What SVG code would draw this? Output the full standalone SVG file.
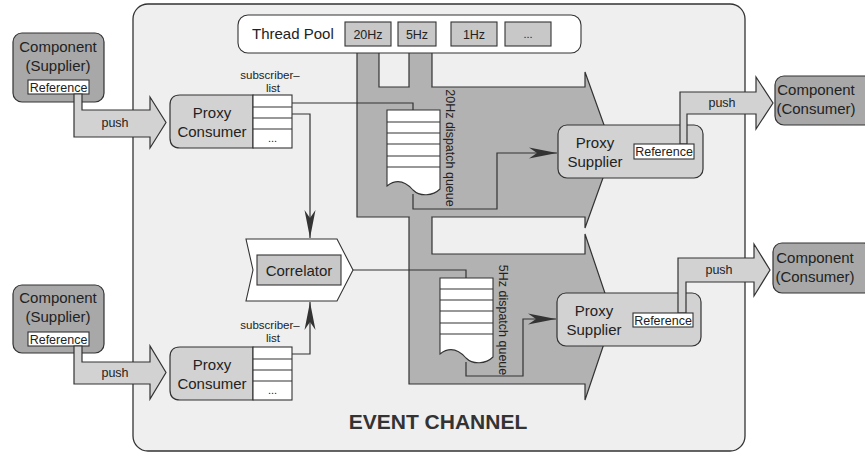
<svg xmlns="http://www.w3.org/2000/svg" width="865" height="453" viewBox="0 0 865 453">
  <defs>
    <style>
      text { font-family: "Liberation Sans", Arial, sans-serif; fill: #222; }
      .ln { fill: none; stroke: #333; stroke-width: 1.2; }
      .frame { fill: #efefef; stroke: #333; stroke-width: 1.3; }
      .comp { fill: #a8a8a8; stroke: #333; stroke-width: 1.2; }
      .light { fill: #d2d2d2; stroke: #333; stroke-width: 1.2; }
      .tile { fill: #c8c8c8; stroke: #333; stroke-width: 1.1; }
      .white { fill: #fff; stroke: #333; stroke-width: 1.1; }
      .big { fill: #b2b2b2; stroke: #333; stroke-width: 1.2; }
      .t15 { font-size: 15px; text-anchor: middle; }
      .t12 { font-size: 12.5px; text-anchor: middle; }
      .t11 { font-size: 11px; text-anchor: middle; }
      .sub { font-size: 11.5px; text-anchor: middle; }
    </style>
    <marker id="barb" markerUnits="userSpaceOnUse" markerWidth="30" markerHeight="12" refX="28" refY="6" orient="auto">
      <path d="M28,6 L0,0.5 L8,6 L0,11.5 Z" fill="#333"/>
    </marker>
  </defs>

  <!-- event channel frame -->
  <g id="event-channel">
    <rect class="frame" x="133" y="4" width="612" height="447" rx="15"/>
    <text x="438" y="429" style="font-size:21px;font-weight:bold;text-anchor:middle;fill:#333">EVENT CHANNEL</text>
  </g>

  <!-- dispatch flows from the thread pool -->
  <g id="dispatch-flows">
    <path class="big" d="M409,46 H432 V254 H585 V234 L613,317 L585,400 V384 H409 Z"/>
    <path class="big" d="M357,46 H379 V87 H585 V72 L613,150 L585,228 V217 H357 Z"/>
    <rect x="409.8" y="86" width="21.4" height="132" fill="#b2b2b2"/>
  </g>

  <!-- thread pool -->
  <g id="thread-pool">
    <rect class="white" x="238" y="15" width="343" height="38" rx="10"/>
    <text x="252" y="39" style="font-size:15px">Thread Pool</text>
    <rect class="tile" x="345" y="22" width="46" height="24"/>
    <text class="t12" x="368" y="38.5">20Hz</text>
    <rect class="tile" x="398" y="22" width="38" height="24"/>
    <text class="t12" x="417" y="38.5">5Hz</text>
    <rect class="tile" x="451" y="22" width="46" height="24"/>
    <text class="t12" x="474" y="38.5">1Hz</text>
    <rect class="tile" x="505" y="22" width="46" height="24"/>
    <text class="t11" x="528" y="38">...</text>
  </g>

  <!-- 20Hz dispatch queue -->
  <g id="queue-20hz">
    <path class="white" d="M387,110 H440 V189 C433,196 420,197 413,190 C405,181 396,179 387,186 Z"/>
    <path class="ln" d="M387,122 H440 M387,133 H440 M387,144 H440 M387,156 H440 M387,167 H440"/>
    <text x="450" y="148" transform="rotate(90 450 148)" style="font-size:12.5px;text-anchor:middle;dominant-baseline:central">20Hz dispatch queue</text>
  </g>

  <!-- 5Hz dispatch queue -->
  <g id="queue-5hz">
    <path class="white" d="M440,278 H493 V357 C486,364 473,365 466,358 C458,349 449,347 440,354 Z"/>
    <path class="ln" d="M440,289 H493 M440,300 H493 M440,311 H493 M440,323 H493 M440,334 H493"/>
    <text x="503" y="320" transform="rotate(90 503 320)" style="font-size:12.5px;text-anchor:middle;dominant-baseline:central">5Hz dispatch queue</text>
  </g>

  <!-- supplier side, top -->
  <g id="supplier-top">
    <rect class="comp" x="13" y="33" width="91" height="69" rx="9"/>
    <text class="t15" x="58" y="52">Component</text>
    <text class="t15" x="58" y="71">(Supplier)</text>
    <rect class="white" x="28" y="80" width="61" height="14"/>
    <text class="t12" x="58.5" y="91.5">Reference</text>
  </g>
  <g id="push-in-top">
    <path class="light" d="M74,94 H82 V110 H150 V97 L166,122.5 L150,148 V137 H74 Z"/>
    <text class="t12" x="115" y="127">push</text>
  </g>
  <g id="proxy-consumer-top">
    <path class="light" d="M253,95 H180 Q170,95 170,105 V138 Q170,148 180,148 H253 Z"/>
    <text class="t15" x="212" y="118">Proxy</text>
    <text class="t15" x="212" y="137">Consumer</text>
    <rect class="white" x="253" y="95" width="39" height="53"/>
    <path class="ln" d="M253,107 H292 M253,118 H292 M253,129 H292"/>
    <text class="t11" x="272.5" y="142">...</text>
    <text class="sub" x="270" y="79">subscriber–</text>
    <text class="sub" x="273" y="92">list</text>
  </g>

  <!-- supplier side, bottom -->
  <g id="supplier-bottom">
    <rect class="comp" x="13" y="285" width="91" height="68" rx="9"/>
    <text class="t15" x="58" y="303">Component</text>
    <text class="t15" x="58" y="322">(Supplier)</text>
    <rect class="white" x="28" y="332" width="61" height="14"/>
    <text class="t12" x="58.5" y="343.5">Reference</text>
  </g>
  <g id="push-in-bottom">
    <path class="light" d="M74,346 H82 V362 H150 V346 L166,372.5 L150,399 V384 H74 Z"/>
    <text class="t12" x="115" y="377">push</text>
  </g>
  <g id="proxy-consumer-bottom">
    <path class="light" d="M253,347 H180 Q170,347 170,357 V390 Q170,400 180,400 H253 Z"/>
    <text class="t15" x="212" y="370">Proxy</text>
    <text class="t15" x="212" y="389">Consumer</text>
    <rect class="white" x="253" y="347" width="39" height="53"/>
    <path class="ln" d="M253,359 H292 M253,370 H292 M253,381 H292"/>
    <text class="t11" x="272.5" y="394">...</text>
    <text class="sub" x="270" y="329">subscriber–</text>
    <text class="sub" x="273" y="342">list</text>
  </g>

  <!-- correlator -->
  <g id="correlator">
    <path class="white" d="M246,239 H337 L353,270 L337,301 H246 L253,270 Z"/>
    <rect class="tile" x="257" y="255" width="84" height="30"/>
    <text class="t15" x="299" y="275.5">Correlator</text>
  </g>

  <!-- proxy suppliers and consumers -->
  <g id="proxy-supplier-top">
    <rect class="light" x="558" y="125" width="145" height="53" rx="9"/>
    <text class="t15" x="595" y="148">Proxy</text>
    <text class="t15" x="595" y="167">Supplier</text>
  </g>
  <g id="push-out-top">
    <path class="light" d="M680,144 V92 H756 V77 L773,103 L756,129 V114 H687 V144 Z"/>
    <text class="t12" x="722" y="107">push</text>
    <rect class="white" x="634" y="144" width="60" height="15"/>
    <text class="t12" x="664" y="156">Reference</text>
  </g>
  <g id="consumer-top">
    <rect class="comp" x="775" y="76" width="100" height="49" rx="9"/>
    <text class="t15" x="816" y="95">Component</text>
    <text class="t15" x="816" y="114">(Consumer)</text>
  </g>

  <g id="proxy-supplier-bottom">
    <rect class="light" x="557" y="293" width="144" height="53" rx="9"/>
    <text class="t15" x="594" y="316">Proxy</text>
    <text class="t15" x="594" y="335">Supplier</text>
  </g>
  <g id="push-out-bottom">
    <path class="light" d="M678,313 V258 H754 V244 L770,270 L754,296 V282 H686 V313 Z"/>
    <text class="t12" x="719" y="274">push</text>
    <rect class="white" x="633" y="313" width="60" height="14"/>
    <text class="t12" x="663" y="324.5">Reference</text>
  </g>
  <g id="consumer-bottom">
    <rect class="comp" x="773" y="243" width="100" height="50" rx="9"/>
    <text class="t15" x="815" y="263">Component</text>
    <text class="t15" x="815" y="282">(Consumer)</text>
  </g>

  <!-- connectors -->
  <g id="connectors">
    <path class="ln" d="M292,103 H413 V110"/>
    <path class="ln" d="M292,114 H310 V238" marker-end="url(#barb)"/>
    <path class="ln" d="M292,354 H310 V302" marker-end="url(#barb)"/>
    <path class="ln" d="M353,270 H466 V278"/>
    <path class="ln" d="M413,194 V209 H497 V153 H557" marker-end="url(#barb)"/>
    <path class="ln" d="M466,362 V376 H523 V319 H556" marker-end="url(#barb)"/>
  </g>
</svg>
